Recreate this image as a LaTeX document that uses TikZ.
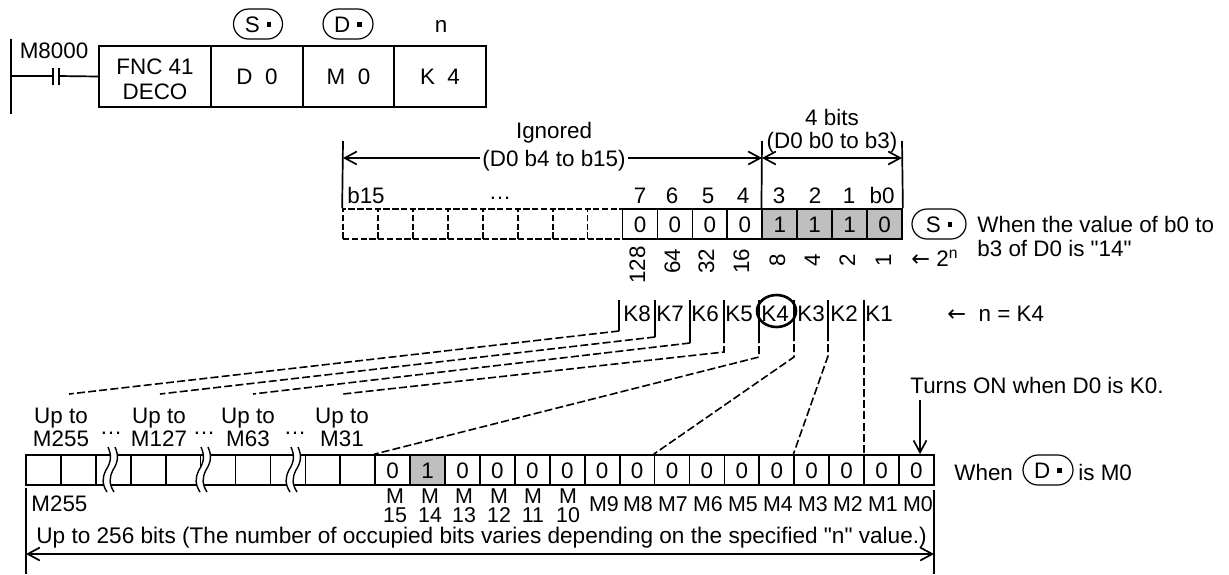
\documentclass[tikz,border=0pt]{standalone}
\usepackage{fontspec}
\setmainfont{Liberation Sans}[Ligatures=TeXOff]
\newfontfamily\arrowfont{DejaVu Sans}
\usetikzlibrary{arrows.meta,shapes.misc,shapes.geometric}
\definecolor{bitgray}{gray}{0.75}
\newcommand{\opdot}{\hspace{3.5pt}\rule[2.6pt]{2.2pt}{2.2pt}}
\tikzset{
  line/.style={line width=0.85pt},
  dim/.style={line width=0.85pt,{Straight Barb[length=6pt,width=6.5pt]}-{Straight Barb[length=6pt,width=6.5pt]}},
  onearrow/.style={line width=0.85pt,-{Straight Barb[length=6pt,width=6.5pt]}},
  dashconn/.style={line width=0.8pt,dash pattern=on 4pt off 1.6pt},
  txt/.style={inner sep=0pt,text height=8pt,text depth=0pt,font=\fontsize{11.2}{12}\selectfont},
  small/.style={txt,font=\fontsize{10.7}{12}\selectfont},
  cell/.style={txt,draw,line width=0.85pt,minimum width=17.46pt,minimum height=15pt},
  ghost/.style={cell,dash pattern=on 3.2pt off 1.2pt},
  instr/.style={txt,draw,line width=0.95pt,minimum height=30.5pt},
  opnd/.style={txt,rounded rectangle,draw,line width=0.6pt,minimum height=15pt},
  squig/.style={line width=0.7pt}
}
\begin{document}
\begin{tikzpicture}[x=0.5pt,y=-0.5pt]
    \useasboundingbox (0,0) rectangle (1229,574);
    % ladder
    \node[instr,minimum width=56pt] (fnc) at (155,76.5) {};
    \node[txt] (fnctop) at (155,66) {FNC 41};
    \node[txt] (fncbot) at (155,91) {DECO};
    \node[instr,minimum width=46pt] (src) at (257,76.5) {D\ \ 0};
    \node[instr,minimum width=45.5pt] (dst) at (348.5,76.5) {M\ \ 0};
    \node[instr,minimum width=46pt] (cnt) at (440,76.5) {K\ \ 4};
    \node[opnd,minimum width=24.5pt] (opS) at (258,24) {S\opdot};
    \node[opnd,minimum width=25pt] (opD) at (348,24) {D\opdot};
    \node[txt] (opN) at (441,24) {n};
    \node[txt] (m8000) at (54,50) {M8000};
    \coordinate (railtop) at (11,39);
    \coordinate (railbot) at (11,114);
    \coordinate (rung) at (11,76);
    \coordinate (cta) at (53,76);
    \coordinate (ctb) at (59,76);
    \draw[line] (railtop) -- (railbot);
    \draw[line] (rung) -- (cta) (ctb) -- (fnc.west);
    \draw[line] (53,68) -- (53,85) (59,68) -- (59,85);
    % source word
    \foreach \i in {15,...,8}
      \node[ghost] (s\i) at ({343+34.94*(15-\i)+17.47},224) {};
    \foreach \i in {7,...,4}
      \node[cell] (s\i) at ({343+34.94*(15-\i)+17.47},224) {0};
    \foreach \i/\v in {3/1,2/1,1/1,0/0}
      \node[cell,fill=bitgray] (s\i) at ({343+34.94*(15-\i)+17.47},224) {\v};
    \node[txt] (h15) at (366,195) {b15};
    \node[txt] (hdots) at (500,191) {…};
    \foreach \t/\x in {7/640,6/672,5/708,4/743,3/779,2/815,1/849}
      \node[txt] (h\t) at (\x,195) {\t};
    \node[txt] (h0) at (882,195) {b0};
    \foreach \t/\x/\y in {128/637/265,64/672/261,32/706/261,16/741/261,8/777/260,4/812/260,2/847/260,1/883/260}
      \node[txt,rotate=90] (w\t) at (\x,\y) {\t};
    \node[txt,anchor=west] (pow) at (911,258) {{\arrowfont ←}\ 2\textsuperscript{n}};
    \coordinate (igl) at (343,141);
    \coordinate (igr) at (762,141);
    \coordinate (btr) at (902,141);
    \coordinate (igla) at (343,158);
    \coordinate (igra) at (762,158);
    \coordinate (btra) at (902,158);
    \draw[line] (igl) -- (s15.north west);
    \draw[line] (igr) -- (s3.north west);
    \draw[line] (btr) -- (s0.north east);
    \draw[dim] (igla) -- (igra);
    \draw[dim] (igra) -- (btra);
    \node[txt] (ign) at (554,130) {Ignored};
    \node[txt,fill=white,inner xsep=1pt] (ignb) at (554,158) {(D0 b4 to b15)};
    \node[txt] (fbit) at (832,117) {4 bits};
    \node[txt] (fbitb) at (832,140) {(D0 b0 to b3)};
    \node[opnd,minimum width=27pt] (opS2) at (939,224) {S\opdot};
    \node[txt,anchor=west] (whA) at (977,224) {When the value of b0 to};
    \node[txt,anchor=west] (whB) at (977,248) {b3 of D0 is "14"};
    % n values
    \foreach \t/\x in {8/637,7/670,6/705,5/739,4/775,3/811,2/844,1/879}
      \node[txt] (k\t) at (\x,313) {K\t};
    \node[txt,anchor=west] (nval) at (947,313) {{\arrowfont ←}\ \ n = K4};
    \node[draw,ellipse,line width=1.3pt,inner sep=0pt,minimum width=19.5pt,minimum height=16pt] (ring) at (776.5,311) {};
    % destination word
    \foreach \i in {25,...,16}
      \node[cell] (d\i) at ({26+34.92*(25-\i)+17.46},470) {};
    \foreach \i in {15,13,12,...,0}
      \node[cell] (d\i) at ({26+34.92*(25-\i)+17.46},470) {0};
    \node[cell,fill=bitgray] (d14) at ({26+34.92*11+17.46},470) {1};
    \foreach \x in {112,205,295}{
      \fill[white] (\x-4,447) .. controls (\x,456) and (\x-1,462) .. (\x-6,470) .. controls (\x-10,478) and (\x-10,484) .. (\x-5,492)
        -- (\x+2,492) .. controls (\x-3,484) and (\x-3,478) .. (\x+1,470) .. controls (\x+6,462) and (\x+7,456) .. (\x+3,447) -- cycle;
      \draw[squig] (\x-4,447) .. controls (\x,456) and (\x-1,462) .. (\x-6,470) .. controls (\x-10,478) and (\x-10,484) .. (\x-5,492);
      \draw[squig] (\x+3,447) .. controls (\x+7,456) and (\x+6,462) .. (\x+1,470) .. controls (\x-3,478) and (\x-3,484) .. (\x+2,492);
    }
    \foreach \t/\x in {255/61,127/159,63/248,31/342}{
      \node[txt] (up\t) at (\x,415) {Up to};
      \node[txt] (lim\t) at (\x,438) {M\t};
    }
    \foreach \n/\x in {a/111,b/204,c/295}
      \node[txt] (dots\n) at (\x,426) {…};
    \foreach \t/\x in {15/395,14/430,13/464,12/499,11/533,10/568}{
      \node[small] (mt\t) at (\x,495.5) {M};
      \node[small] (mn\t) at (\x,514.5) {\t};
    }
    \foreach \t/\x in {9/604,8/638,7/673,6/708,5/743,4/778,3/813,2/848,1/883,0/918}
      \node[small] (m\t) at (\x,503) {M\t};
    \node[txt,anchor=west] (m255) at (31,503) {M255};
    \node[txt,anchor=west,font=\fontsize{11.3}{12}\selectfont] (note) at (36,535) {Up to 256 bits (The number of occupied bits varies depending on the specified "n" value.)};
    \coordinate (wl) at (26,488);
    \coordinate (wlb) at (26,574);
    \coordinate (wr) at (934,490);
    \coordinate (wrb) at (934,574);
    \coordinate (wla) at (26,554);
    \coordinate (wra) at (934,554);
    \draw[line] (wl) -- (wlb);
    \draw[line] (wr) -- (wrb);
    \draw[dim] (wla) -- (wra);
    \node[txt,anchor=west] (turn) at (910,385) {Turns ON when D0 is K0.};
    \coordinate (ona) at (920,400);
    \draw[onearrow] (ona) -- (d0.north -| ona);
    \node[txt,anchor=west] (whD) at (954,472) {When};
    \node[opnd,minimum width=25pt] (opD2) at (1048,470) {D\opdot};
    \node[txt,anchor=west] (isM) at (1078,472) {is M0};
    % connectors
    \coordinate (e8) at (69,394);
    \coordinate (e7) at (160,394);
    \coordinate (e6) at (253,394);
    \coordinate (e5) at (343,394);
    \foreach \n/\x/\s/\b/\e in {8/619/331/331/e8,7/655/337/337/e7,6/690/343/343/e6,5/724/335/352/e5,
        4/759/335/357/d15.north west,3/794/333/357/d7.north west,2/828/333/356/d3.north west,1/864/333/455/d1.north west}{
      \coordinate (kt\n) at (\x,300);
      \coordinate (kj\n) at (\x,\s);
      \coordinate (kb\n) at (\x,\b);
      \draw[line] (kt\n) -- (kj\n);
      \draw[dashconn] (kj\n) -- (kb\n) -- (\e);
    }
  \end{tikzpicture}
\end{document}
